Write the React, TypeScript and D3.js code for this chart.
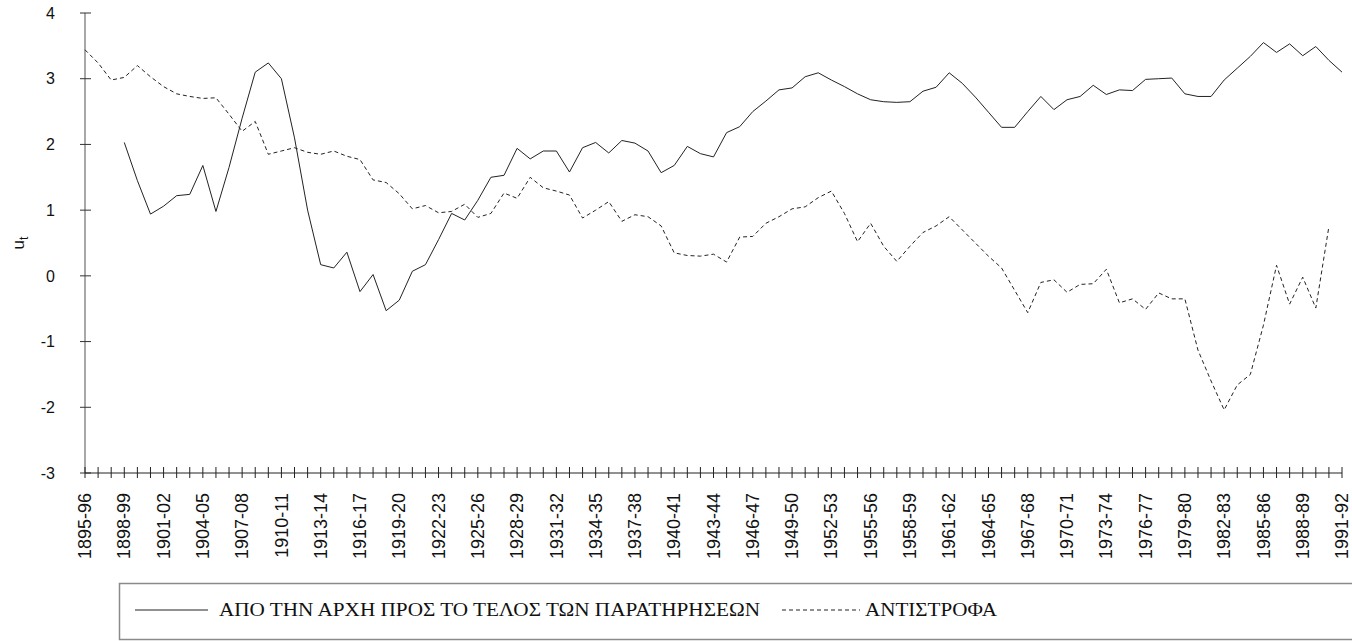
import React from 'react';
import * as d3 from 'd3';

// fiscal years 1895-96 ... 1991-92
const categories = d3.range(1895, 1992).map(y => `${y}-${String((y + 1) % 100).padStart(2, '0')}`);

// ΑΠΟ ΤΗΝ ΑΡΧΗ ΠΡΟΣ ΤΟ ΤΕΛΟΣ ΤΩΝ ΠΑΡΑΤΗΡΗΣΕΩΝ (solid)
const forward = [
  null, null, null, 2.03, 1.45, 0.94, 1.06, 1.22, 1.24, 1.68,
  0.98, 1.65, 2.4, 3.1, 3.24, 3.0, 2.1, 1.0, 0.17, 0.12,
  0.36, -0.24, 0.02, -0.53, -0.37, 0.07, 0.17, 0.55, 0.95, 0.85,
  1.15, 1.5, 1.53, 1.94, 1.78, 1.9, 1.9, 1.58, 1.95, 2.03,
  1.87, 2.06, 2.02, 1.9, 1.57, 1.68, 1.97, 1.86, 1.81, 2.18,
  2.27, 2.5, 2.66, 2.83, 2.86, 3.03, 3.09, 2.98, 2.88, 2.77,
  2.68, 2.65, 2.64, 2.65, 2.81, 2.87, 3.09, 2.93, 2.72, 2.49,
  2.26, 2.26, 2.5, 2.73, 2.53, 2.68, 2.73, 2.9, 2.76, 2.83,
  2.82, 2.99, 3.0, 3.01, 2.77, 2.73, 2.73, 2.98, 3.16, 3.34,
  3.55, 3.4, 3.53, 3.35, 3.49, 3.28, 3.1,
];

// ΑΝΤΙΣΤΡΟΦΑ (dashed)
const reverse = [
  3.44, 3.24, 2.98, 3.02, 3.2, 3.03, 2.88, 2.77, 2.73, 2.7,
  2.71, 2.46, 2.2, 2.35, 1.85, 1.9, 1.95, 1.88, 1.85, 1.9,
  1.82, 1.77, 1.46, 1.42, 1.25, 1.02, 1.07, 0.96, 0.98, 1.09,
  0.89, 0.95, 1.26, 1.18, 1.5, 1.34, 1.29, 1.23, 0.88, 1.0,
  1.13, 0.83, 0.93, 0.9, 0.76, 0.35, 0.31, 0.3, 0.33, 0.21,
  0.59, 0.6, 0.8, 0.9, 1.02, 1.05, 1.19, 1.29, 0.95, 0.52,
  0.8, 0.45, 0.22, 0.45, 0.66, 0.76, 0.9, 0.7, 0.5, 0.3,
  0.12, -0.22, -0.56, -0.1, -0.06, -0.25, -0.13, -0.12, 0.1, -0.41,
  -0.35, -0.51, -0.26, -0.35, -0.35, -1.13, -1.6, -2.04, -1.66, -1.5,
  -0.75, 0.16, -0.43, -0.02, -0.49, 0.75, null,
];

const yTicks = [-3, -2, -1, 0, 1, 2, 3, 4];
const xLabels = categories.filter((_, i) => i % 3 === 0);

const legendLabels = ['ΑΠΟ ΤΗΝ ΑΡΧΗ ΠΡΟΣ ΤΟ ΤΕΛΟΣ ΤΩΝ ΠΑΡΑΤΗΡΗΣΕΩΝ', 'ΑΝΤΙΣΤΡΟΦΑ'];

const W = 1352;
const H = 641;

export default function App() {
  const x = d3.scalePoint<string>().domain(categories).range([85, 1342]);
  const y = d3.scaleLinear().domain([-3, 4]).range([473, 13]);

  const line = d3.line<number | null>()
    .defined(d => d !== null)
    .x((_, i) => x(categories[i]) as number)
    .y(d => y(d as number));

  const sans = 'Arial, "Liberation Sans", sans-serif';
  const serif = '"Times New Roman", "Liberation Serif", serif';

  return (
    <div style={{ position: 'fixed', left: 0, top: 0 }}>
      <svg width={W} height={H} style={{ display: 'block', background: '#fff' }}>
        {/* y axis */}
        <line x1={85} x2={85} y1={y(4)} y2={y(-3)} stroke="#a8a8a8" strokeWidth={2} />
        {yTicks.map(t => (
          <g key={t}>
            <line x1={80} x2={91} y1={y(t)} y2={y(t)} stroke="#333" strokeWidth={1} />
            <text x={55} y={y(t)} dy="0.36em" textAnchor="end" fontFamily={sans} fontSize={16} fill="#111">
              {t}
            </text>
          </g>
        ))}
        <text transform={`translate(24,${y(0.5)}) rotate(-90)`} fontFamily={sans} fontSize={17} fill="#111" textAnchor="middle">
          u<tspan fontSize={12} dy={4}>t</tspan>
        </text>

        {/* x axis */}
        <line x1={85} x2={1342} y1={y(-3)} y2={y(-3)} stroke="#222" strokeWidth={1} />
        {categories.map(c => (
          <line key={c} x1={x(c)} x2={x(c)} y1={y(-3) - 6} y2={y(-3) + 5} stroke="#222" strokeWidth={1} />
        ))}
        {xLabels.map(c => (
          <text
            key={c}
            transform={`translate(${x(c)},${493}) rotate(-90)`}
            textAnchor="end"
            dy="0.34em"
            fontFamily={sans}
            fontSize={18}
            fill="#111"
          >
            {c}
          </text>
        ))}

        {/* series */}
        <path d={line(forward) ?? ''} fill="none" stroke="#222" strokeWidth={1} />
        <path d={line(reverse) ?? ''} fill="none" stroke="#222" strokeWidth={1} strokeDasharray="4,3" />

        {/* legend */}
        <rect x={119.5} y={583.5} width={1250} height={56} fill="none" stroke="#8a8a8a" strokeWidth={1.5} />
        <line x1={135} x2={208} y1={610} y2={610} stroke="#222" strokeWidth={1} />
        <text x={219} y={616} fontFamily={serif} fontSize={18} fill="#111" textLength={541} lengthAdjust="spacingAndGlyphs">
          {legendLabels[0]}
        </text>
        <line x1={782} x2={860} y1={610} y2={610} stroke="#222" strokeWidth={1} strokeDasharray="4,3" />
        <text x={865} y={616} fontFamily={serif} fontSize={18} fill="#111" textLength={132} lengthAdjust="spacingAndGlyphs">
          {legendLabels[1]}
        </text>
      </svg>
    </div>
  );
}
